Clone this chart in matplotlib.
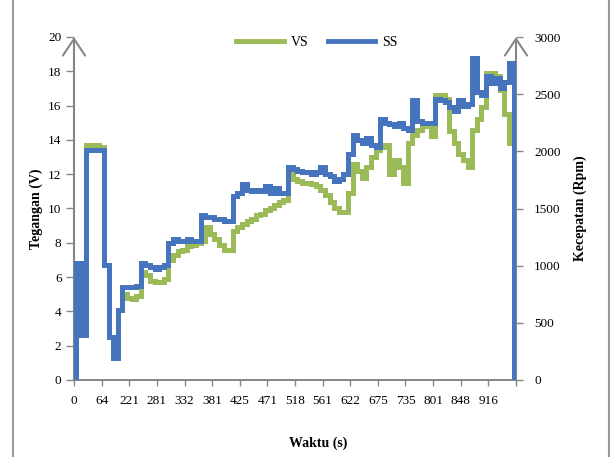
import matplotlib
matplotlib.use("Agg")
import matplotlib.pyplot as plt
from matplotlib.lines import Line2D

# Time labels shown under every 6th sample
time_labels = ["0", "64", "221", "281", "332", "381", "425", "471", "518",
               "561", "622", "675", "735", "801", "848", "916"]

# Voltage (V) per sample
vs_volt = [6.8, 6.8, 2.6, 13.7, 13.7, 13.7, 13.6, 6.7, 2.5, 1.4,
           4.1, 5.0, 4.8, 4.7, 4.9, 6.3, 6.1, 5.8, 5.7, 5.7,
           5.9, 7.0, 7.3, 7.5, 7.6, 7.8, 7.9, 8.0, 8.1, 8.9,
           8.5, 8.2, 7.9, 7.6, 7.6, 8.7, 8.9, 9.1, 9.3, 9.4,
           9.6, 9.7, 9.9, 10.0, 10.2, 10.4, 10.5, 12.2, 11.7, 11.6,
           11.5, 11.5, 11.4, 11.3, 11.1, 10.8, 10.4, 10.0, 9.8, 9.8,
           10.9, 12.6, 12.2, 11.8, 12.4, 13.0, 13.4, 13.6, 13.7, 12.0,
           12.8, 12.4, 11.5, 13.8, 14.3, 14.6, 14.8, 14.8, 14.2, 16.6,
           16.6, 16.4, 14.5, 13.8, 13.2, 12.8, 12.4, 14.6, 15.2, 15.9,
           17.9, 17.9, 17.7, 16.9, 15.5, 13.8, 13.8]

# Speed (rpm) per sample
ss_rpm = [0, 1020, 390, 2010, 2010, 2010, 2010, 1005, 375, 195,
          615, 810, 810, 810, 825, 1020, 1005, 990, 975, 990,
          1005, 1200, 1230, 1215, 1215, 1230, 1215, 1215, 1440, 1425,
          1425, 1410, 1410, 1395, 1395, 1605, 1635, 1710, 1665, 1650,
          1665, 1650, 1695, 1635, 1680, 1635, 1635, 1860, 1845, 1830,
          1815, 1815, 1800, 1815, 1860, 1800, 1785, 1740, 1755, 1800,
          1980, 2145, 2100, 2070, 2115, 2055, 2040, 2280, 2250, 2235,
          2220, 2250, 2205, 2190, 2445, 2265, 2250, 2250, 2250, 2460,
          2445, 2430, 2385, 2355, 2445, 2400, 2415, 2820, 2520, 2490,
          2655, 2595, 2640, 2550, 2610, 2775, 0]

GREEN = "#9BBB59"
BLUE = "#4675BE"
GRAY = "#868686"
LABEL_STEP = 6

plt.rcParams["font.family"] = ["Liberation Serif", "DejaVu Serif"]

fig = plt.figure(figsize=(6.14, 4.57), dpi=100)
ax = fig.add_axes([74 / 614, 1 - 380 / 457, (516 - 74) / 614, (380 - 37) / 457])
ax2 = ax.twinx()

idx = list(range(len(vs_volt)))
line_kw = dict(lw=3.6, drawstyle="steps-mid", solid_joinstyle="miter",
               solid_capstyle="butt", zorder=3)
ax.plot(idx, vs_volt, color=GREEN, **line_kw)
ax2.plot(idx, ss_rpm, color=BLUE, **line_kw)

n_last = len(vs_volt) - 1
ax.set_xlim(0, n_last)
ax.set_ylim(0, 20)
ax2.set_ylim(0, 3000)

ticks = list(range(0, n_last + 1, LABEL_STEP))
ax.set_xticks(ticks)
ax.set_xticklabels(time_labels + [""] * (len(ticks) - len(time_labels)),
                   fontsize=9.5)
ax.set_yticks(range(0, 21, 2))
ax.set_yticklabels([str(v) for v in range(0, 21, 2)], fontsize=9.5)
ax2.set_yticks(range(0, 3001, 500))
ax2.set_yticklabels([str(v) for v in range(0, 3001, 500)], fontsize=9.5)

ax.tick_params(axis="x", length=4, width=1, color=GRAY, pad=7, direction="out")
ax.tick_params(axis="y", length=6, width=1, color=GRAY, pad=3, direction="out")
ax2.tick_params(axis="y", length=5, width=1, color=GRAY, pad=8, direction="out")

for a in (ax, ax2):
    for side in ("top", "left", "right"):
        a.spines[side].set_visible(False)
    a.spines["bottom"].set_color(GRAY)
    a.spines["bottom"].set_linewidth(1.2)
    a.patch.set_visible(False)

# Vertical axes drawn as arrows pointing up
arrow_kw = dict(arrowstyle="->,head_length=0.6,head_width=0.4", color=GRAY,
                lw=1.5, shrinkA=0, shrinkB=0, mutation_scale=20)
ax.annotate("", xy=(0, 1.0), xytext=(0, 0), xycoords="axes fraction",
            arrowprops=arrow_kw, zorder=1)
ax.annotate("", xy=(1, 1.0), xytext=(1, 0), xycoords="axes fraction",
            arrowprops=arrow_kw, zorder=1)

ax.set_ylabel("Tegangan (V)", fontsize=10, fontweight="bold", labelpad=4)
ax2.set_ylabel("Kecepatan (Rpm)", fontsize=10, fontweight="bold", labelpad=9)
fig.text(318 / 614, 1 - 443 / 457, "Waktu (s)", fontsize=10,
         fontweight="bold", ha="center", va="center")

handles = [Line2D([], [], color=GREEN, lw=3.5),
           Line2D([], [], color=BLUE, lw=3.5)]
fig.legend(handles, ["VS", "SS"], loc="center", ncol=2, frameon=False,
           bbox_to_anchor=(317 / 614, 1 - 42 / 457), fontsize=10,
           handlelength=3.4, handletextpad=0.5, columnspacing=1.4)

# Chart area frame
for xf in (13 / 614, 609 / 614):
    fig.add_artist(Line2D([xf, xf], [0, 1], color="#9a9a9a", lw=1.5,
                          transform=fig.transFigure))

fig.savefig("out.png", dpi=100)
